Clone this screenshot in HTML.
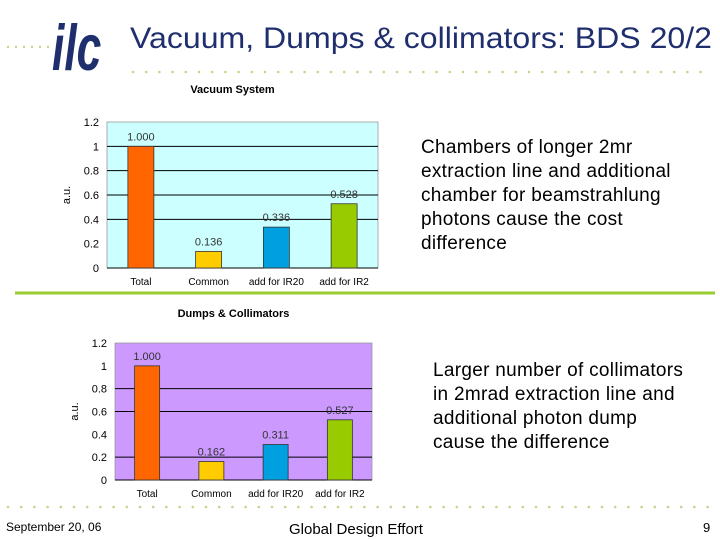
<!DOCTYPE html>
<html><head><meta charset="utf-8"><style>
body{margin:0;width:720px;height:540px;background:#fff;position:relative;overflow:hidden;font-family:"Liberation Sans",sans-serif}
.t{position:absolute;color:#000}
</style></head><body>
<svg width="720" height="540" style="position:absolute;left:0;top:0">
<text x="0" y="0" font-size="62" font-weight="bold" font-style="italic" fill="#1f2f6e" font-family="Liberation Sans" transform="translate(52,70) scale(0.85,1.05)" textLength="58" lengthAdjust="spacingAndGlyphs">ilc</text>
<text x="130" y="48" font-size="30" fill="#1f2f6e" font-family="Liberation Sans" textLength="582" lengthAdjust="spacingAndGlyphs">Vacuum, Dumps &amp; collimators: BDS 20/2</text>
<g id="dots" fill="#c8d48a"></g>
<line x1="15" y1="293" x2="715" y2="293" stroke="#99cc33" stroke-width="3"/>
<g id="c1"></g><g id="c2"></g>
</svg>
<div class="t" style="left:421px;top:136px;font-size:19px;letter-spacing:0.3px;line-height:24px">Chambers of longer 2mr<br>extraction line and additional<br>chamber for beamstrahlung<br>photons cause the cost<br>difference</div>
<div class="t" style="left:433px;top:359px;font-size:19px;letter-spacing:0.3px;line-height:24px">Larger number of collimators<br>in 2mrad extraction line and<br>additional photon dump<br>cause the difference</div>
<div class="t" style="left:6px;top:520px;font-size:12px">September 20, 06</div>
<div class="t" style="left:289px;top:521px;font-size:15px">Global Design Effort</div>
<div class="t" style="left:703px;top:520px;font-size:13px">9</div>
<script>
const categories=["Total","Common","add for IR20","add for IR2"];
const vacuumValues=[1.000,0.136,0.336,0.528];
const dumpValues=[1.000,0.162,0.311,0.527];
const tickLabels=["0","0.2","0.4","0.6","0.8","1","1.2"];
const tickValues=[0,0.2,0.4,0.6,0.8,1,1.2];
const colors=["#ff6600","#ffcc00","#00a0e0","#99cc00"];
const NS="http://www.w3.org/2000/svg";
function mk(p,t,a,txt){const e=document.createElementNS(NS,t);for(const k in a)e.setAttribute(k,a[k]);if(txt!==undefined)e.textContent=txt;p.appendChild(e);return e;}
const dg=document.getElementById('dots');
for(let x=8;x<56;x+=8){const d=mk(dg,'circle',{cx:x,cy:47,r:1.2});

}
for(let x=133;x<712;x+=13.2){const d=mk(dg,'circle',{cx:x,cy:72,r:1.3});

}
for(let x=8;x<712;x+=13.2){const d=mk(dg,'circle',{cx:x,cy:507,r:1.3});

}
function chart(g,o){
 const y=v=>o.y0-(v/1.2)*(o.y0-o.y1);
 const cw=(o.x1-o.x0)/categories.length;
 const x=i=>o.x0+cw*i+cw/2;
 const t=mk(g,'text',{x:(o.x0+o.x1)/2-10,y:o.ty,'font-size':11,'font-weight':'bold','text-anchor':'middle','font-family':'Liberation Sans'},o.title);
 
 
 const bg=mk(g,'rect',{x:o.x0,y:o.y1,width:o.x1-o.x0,height:o.y0-o.y1,fill:o.bg,stroke:'#999','stroke-width':0.8});
 
 
 tickValues.forEach((v,i)=>{
  if(v>0&&v<1.2&&o.grid.includes(i)){const l=mk(g,'line',{x1:o.x0,x2:o.x1,y1:y(v),y2:y(v),stroke:'#000','stroke-width':1});
  
  }
  const tl=mk(g,'text',{x:o.x0-8,y:y(v)+4,'font-size':11,'text-anchor':'end','font-family':'Liberation Sans'},tickLabels[i]);
  
  
 });
 const ax=mk(g,'line',{x1:o.x0,x2:o.x1,y1:o.y0,y2:o.y0,stroke:'#000','stroke-width':1});
 
 
 const yt=mk(g,'text',{x:0,y:0,'font-size':11,'text-anchor':'middle','font-family':'Liberation Sans',transform:`translate(${o.x0-37},${y(0.6)}) rotate(-90)`},'a.u.');
 
 
 o.vals.forEach((v,i)=>{
  const b=mk(g,'rect',{x:x(i)-o.bw/2,y:y(v),width:o.bw,height:y(0)-y(v),fill:colors[i],stroke:'#333','stroke-width':0.8});
  
  
  const lb=mk(g,'text',{x:x(i),y:y(v)-6,'font-size':11,'text-anchor':'middle','font-family':'Liberation Sans',fill:'#333'},v.toFixed(3));
  
  
  const cl=mk(g,'text',{x:x(i),y:o.y0+17,'font-size':10,'text-anchor':'middle','font-family':'Liberation Sans'},categories[i]);
  
  
 });
}
chart(document.getElementById('c1'),{x0:107,x1:378,y0:268,y1:122,bg:'#ccffff',bw:26,vals:vacuumValues,title:'Vacuum System',ty:93,grid:[2,3,4,5]});
chart(document.getElementById('c2'),{x0:115,x1:372,y0:480,y1:343,bg:'#cc99ff',bw:25,vals:dumpValues,title:'Dumps & Collimators',ty:317,grid:[1,3,4]});
</script>
</body></html>
